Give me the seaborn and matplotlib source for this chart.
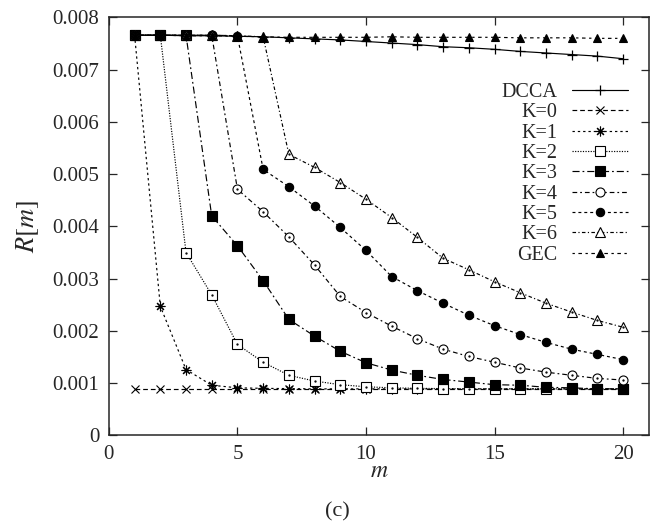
import numpy as np
import pandas as pd
import matplotlib
matplotlib.use("Agg")
import matplotlib.pyplot as plt
import seaborn as sns

m = list(range(1, 21))
dcca = [7.66, 7.66, 7.65, 7.65, 7.64, 7.63, 7.61, 7.59, 7.57, 7.54,
        7.51, 7.48, 7.44, 7.42, 7.39, 7.35, 7.32, 7.29, 7.26, 7.21]
k0 = [0.89] * 20
k1 = [7.66, 2.47, 1.26, 0.96, 0.91, 0.90, 0.895, 0.89, 0.89, 0.89,
      0.89, 0.89, 0.89, 0.89, 0.89, 0.89, 0.89, 0.89, 0.89, 0.89]
k2 = [7.66, 7.66, 3.50, 2.69, 1.74, 1.40, 1.15, 1.04, 0.97, 0.93,
      0.91, 0.90, 0.895, 0.89, 0.89, 0.89, 0.89, 0.89, 0.89, 0.89]
k3 = [7.66, 7.66, 7.66, 4.20, 3.63, 2.96, 2.22, 1.90, 1.61, 1.39,
      1.25, 1.15, 1.07, 1.02, 0.97, 0.96, 0.92, 0.91, 0.89, 0.89]
k4 = [7.66, 7.66, 7.66, 7.66, 4.71, 4.28, 3.80, 3.26, 2.66, 2.35,
      2.09, 1.85, 1.65, 1.51, 1.40, 1.29, 1.21, 1.15, 1.09, 1.06]
k5 = [7.66, 7.66, 7.66, 7.66, 7.65, 5.09, 4.76, 4.39, 3.98, 3.54,
      3.04, 2.77, 2.53, 2.30, 2.10, 1.93, 1.78, 1.65, 1.55, 1.45]
k6 = [7.66, 7.66, 7.66, 7.66, 7.65, 7.63, 5.38, 5.13, 4.84, 4.52,
      4.17, 3.79, 3.39, 3.17, 2.94, 2.73, 2.53, 2.36, 2.20, 2.07]
gec = [7.66, 7.66, 7.65, 7.65, 7.64, 7.63, 7.62, 7.62, 7.62, 7.62,
       7.63, 7.62, 7.62, 7.62, 7.62, 7.61, 7.61, 7.61, 7.60, 7.60]

labels = ["DCCA", "K=0", "K=1", "K=2", "K=3", "K=4", "K=5", "K=6", "GEC"]
series = [dcca, k0, k1, k2, k3, k4, k5, k6, gec]

xticks = [0, 5, 10, 15, 20]
yticks = [0, 0.001, 0.002, 0.003, 0.004, 0.005, 0.006, 0.007, 0.008]
ytick_labels = ["0", "0.001", "0.002", "0.003", "0.004", "0.005", "0.006", "0.007", "0.008"]

sns.set_style("ticks")
plt.rcParams["font.family"] = ["Liberation Serif", "DejaVu Serif"]
plt.rcParams["mathtext.fontset"] = "stix"

styles = [
    dict(marker="+", ms=7, mfc="black", ls="-", mew=0.9),
    dict(marker="x", ms=6, mfc="black", ls=(0, (4, 2.5)), mew=0.8),
    dict(marker=(8, 2, 0), ms=7, mfc="black", ls=(0, (2, 2.5)), mew=0.8),
    dict(marker="s", ms=6.5, mfc="white", ls=(0, (1, 1.2)), mew=0.8),
    dict(marker="s", ms=6.5, mfc="black", ls=(0, (6, 2.5, 1.5, 2.5)), mew=0.8),
    dict(marker="o", ms=6.5, mfc="white", ls=(0, (4, 2.5, 1.5, 2.5)), mew=0.8),
    dict(marker="o", ms=6, mfc="black", ls=(0, (2.5, 2.5)), mew=0.8),
    dict(marker="^", ms=6.5, mfc="white", ls=(0, (3, 2, 1, 2)), mew=0.8),
    dict(marker="^", ms=6, mfc="black", ls=(0, (2, 3, 3, 3)), mew=0.8),
]

fig = plt.figure(figsize=(6.56, 5.29), dpi=100)
ax = fig.add_axes([0.166, 0.177, 0.823, 0.790])

for lab, vals, st in zip(labels, series, styles):
    y = np.array(vals) * 1e-3
    sns.lineplot(x=m, y=y, ax=ax, color="black", lw=0.85, label=lab,
                 marker=st["marker"], markersize=st["ms"],
                 markerfacecolor=st["mfc"], markeredgecolor="black",
                 markeredgewidth=st["mew"], linestyle=st["ls"])
    if st["mfc"] == "white":
        ax.plot(m, y, ls="none", marker=".", ms=1.3, color="black")

ax.set_xlim(0, 21)
ax.set_ylim(0, 0.008)
ax.set_xticks(xticks)
ax.set_xticklabels([str(t) for t in xticks])
ax.set_yticks(yticks)
ax.set_yticklabels(ytick_labels)
ax.tick_params(direction="in", length=6, width=0.9, top=True, right=True,
               labelsize=15, pad=7)
for sp in ax.spines.values():
    sp.set_linewidth(1.1)
    sp.set_visible(True)

ax.set_xlabel(r"$m$", fontsize=17, labelpad=-2)
ax.set_ylabel(r"$R[m]$", fontsize=19, labelpad=8)

leg = ax.legend(loc="upper right", bbox_to_anchor=(0.962, 0.843), frameon=False,
                markerfirst=False, fontsize=14.5, handlelength=2.8,
                handletextpad=0.7, labelspacing=0.06, borderpad=0,
                borderaxespad=0)
leg._legend_box.align = "right"

fig.text(0.515, 0.032, "(c)", ha="center", va="center", fontsize=16)

fig.savefig("out.png", dpi=100)
